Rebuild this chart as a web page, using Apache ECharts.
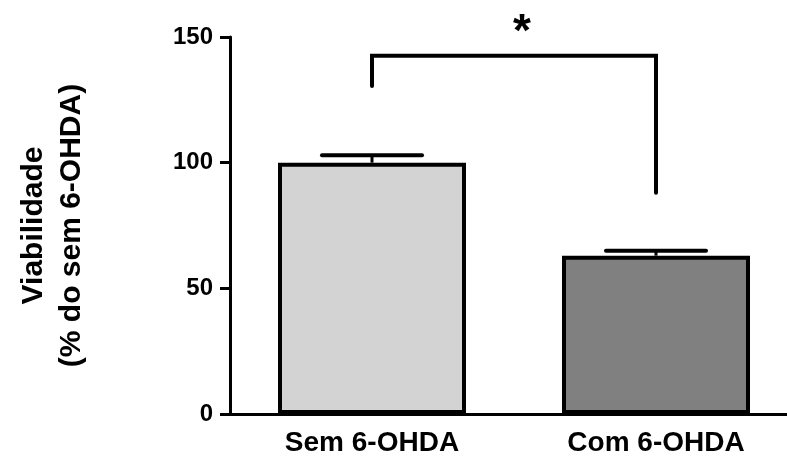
<!DOCTYPE html>
<html>
<head>
<meta charset="utf-8">
<script src="https://cdn.jsdelivr.net/npm/echarts@6/dist/echarts.min.js"></script>
<style>
  html, body { margin: 0; padding: 0; background: #fff; }
  #chart { width: 787px; height: 459px; }
</style>
</head>
<body>
<div id="chart"></div>
<script>
var categories = ['Sem 6-OHDA', 'Com 6-OHDA'];
var means = [100, 63];
var errTop = [103, 65];
var barColors = ['#d3d3d3', '#808080'];
var yTicks = [0, 50, 100, 150];
// significance bracket: [category index, lower end value]
var bracketEnds = [[0, 130.5], [1, 88]];
var bracketLevel = 142.5;
var starLevel = 151.5;

var font = 'Arial, "Liberation Sans", sans-serif';
var myChart = echarts.init(document.getElementById('chart'));

var option = {
  animation: false,
  backgroundColor: '#ffffff',
  grid: { left: 230, top: 37, width: 568, height: 377, containLabel: false, outerBoundsMode: 'none' },
  xAxis: {
    type: 'category',
    data: categories,
    axisLine: { lineStyle: { color: '#000', width: 3 } },
    axisTick: { alignWithLabel: true, length: 8, lineStyle: { color: '#000', width: 3 } },
    axisLabel: { color: '#000', fontFamily: font, fontWeight: 'bold', fontSize: 28, margin: 15 }
  },
  yAxis: {
    type: 'value',
    min: yTicks[0],
    max: yTicks[yTicks.length - 1],
    interval: 50,
    name: 'Viabilidade\n(% do sem 6-OHDA)',
    nameLocation: 'middle',
    nameRotate: 90,
    nameGap: 139,
    nameTextStyle: { color: '#000', fontFamily: font, fontWeight: 'bold', fontSize: 30, lineHeight: 38 },
    splitLine: { show: false },
    axisLine: { show: true, lineStyle: { color: '#000', width: 3 } },
    axisTick: { show: true, length: 10, lineStyle: { color: '#000', width: 3 } },
    axisLabel: { color: '#000', fontFamily: font, fontWeight: 'bold', fontSize: 24, margin: 17 }
  },
  series: [
    {
      type: 'bar',
      barWidth: 188,
      data: means.map(function (v, i) {
        return { value: v, itemStyle: { color: barColors[i] } };
      }),
      itemStyle: { borderColor: '#000', borderWidth: 4 },
      z: 2
    },
    {
      type: 'custom',
      z: 3,
      data: means.map(function (v, i) { return [i, v, errTop[i]]; }),
      renderItem: function (params, api) {
        var base = api.coord([api.value(0), api.value(1)]);
        var top = api.coord([api.value(0), api.value(2)]);
        var half = 50;
        return {
          type: 'group',
          children: [
            { type: 'line', shape: { x1: base[0], y1: base[1], x2: top[0], y2: top[1] },
              style: { stroke: '#000', lineWidth: 3 } },
            { type: 'line', shape: { x1: top[0] - half, y1: top[1], x2: top[0] + half, y2: top[1] },
              style: { stroke: '#000', lineWidth: 4, lineCap: 'round' } }
          ]
        };
      }
    },
    {
      type: 'custom',
      z: 3,
      data: [0],
      renderItem: function (params, api) {
        var pL = api.coord([bracketEnds[0][0], bracketEnds[0][1]]);
        var pLT = api.coord([bracketEnds[0][0], bracketLevel]);
        var pRT = api.coord([bracketEnds[1][0], bracketLevel]);
        var pR = api.coord([bracketEnds[1][0], bracketEnds[1][1]]);
        var star = api.coord([bracketEnds[0][0], starLevel]);
        var starX = (pLT[0] + pRT[0]) / 2 + 8;
        return {
          type: 'group',
          children: [
            { type: 'polyline', shape: { points: [pL, pLT, pRT, pR] },
              style: { stroke: '#000', lineWidth: 4, fill: null, lineCap: 'round', lineJoin: 'miter' } },
            { type: 'text', x: starX, y: star[1],
              style: { text: '*', fill: '#000', font: 'bold 46px ' + font, align: 'center', verticalAlign: 'middle' } }
          ]
        };
      }
    }
  ]
};

myChart.setOption(option);
</script>
</body>
</html>
